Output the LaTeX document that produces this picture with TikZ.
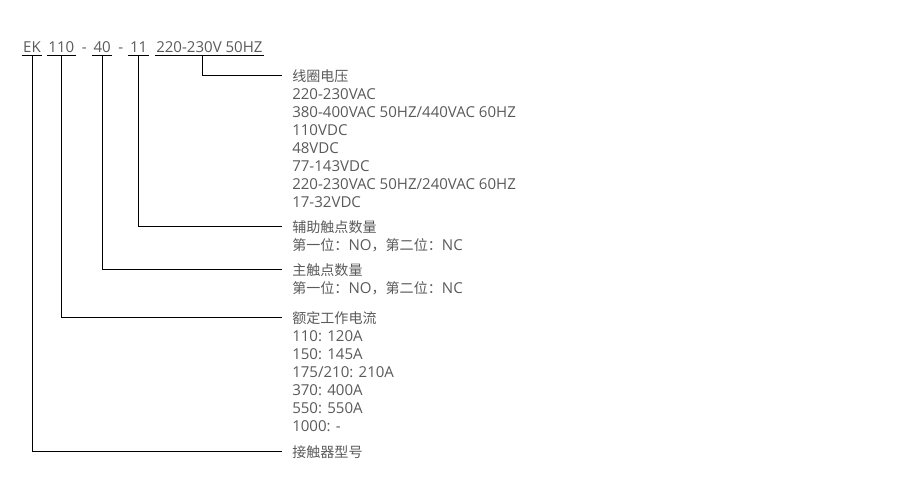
\documentclass[tikz,border=0pt]{standalone}
\usepackage{fontspec}
\setmainfont{Open Sans}[Scale=1.07]
\newfontfamily\cjk{Noto Sans CJK SC}
\usetikzlibrary{positioning}
\definecolor{txtgris}{HTML}{5A5A5A}
\newcommand{\taille}{\fontsize{10}{12.8}\selectfont}
\tikzset{
  seg/.style={inner xsep=1pt, inner ysep=2pt, text depth=0pt, font=\taille, text=txtgris},
  titre/.style={inner sep=0pt, anchor=base west, font=\taille\cjk, text=txtgris},
  corps/.style={inner sep=0pt, anchor=north west, align=left, font=\taille, text=txtgris},
  lien/.style={line width=0.7pt, draw=black},
}
\begin{document}
\begin{tikzpicture}[x=0.025cm, y=-0.025cm, node distance=5pt]
  \useasboundingbox (0,0) rectangle (900,500);
  % code de commande
  \node[seg] (ek) at (32,47) {EK};
  \node[seg, base right=3pt of ek] (cour) {110};
  \node[seg, base right=3pt of cour] (tr1) {-};
  \node[seg, base right=2.5pt of tr1] (princ) {40};
  \node[seg, base right=3pt of princ] (tr2) {-};
  \node[seg, base right=2.5pt of tr2] (aux) {11};
  \node[seg, base right=4pt of aux] (volt) {220-230V 50HZ};
  \foreach \n in {ek,cour,princ,aux,volt}
    \draw[lien] (\n.south west) -- (\n.south east);
  % legendes
  \node[titre] (bob) at (292,81) {线圈电压};
  \node[corps] (bobv) at ([yshift=-3.84pt]bob.base west) {\strut 220-230VAC\\380-400VAC 50HZ/440VAC 60HZ\\110VDC\\48VDC\\77-143VDC\\220-230VAC 50HZ/240VAC 60HZ\\17-32VDC};
  \node[titre] (cta) at (292,232) {辅助触点数量};
  \node[corps] (ctav) at ([yshift=-3.84pt]cta.base west) {\strut{\cjk 第一位：}NO{\cjk ，第二位：}NC};
  \node[titre] (ctp) at (292,275) {主触点数量};
  \node[corps] (ctpv) at ([yshift=-3.84pt]ctp.base west) {\strut{\cjk 第一位：}NO{\cjk ，第二位：}NC};
  \node[titre] (courant) at (292,323) {额定工作电流};
  \node[corps] (courantv) at ([yshift=-3.84pt]courant.base west) {\strut 110: 120A\\150: 145A\\175/210: 210A\\370: 400A\\550: 550A\\1000: -};
  \node[titre] (type) at (292,457) {接触器型号};
  % liaisons
  \draw[lien] ([xshift=-5pt]volt.south) |- ([xshift=-7pt]bob.west);
  \draw[lien] (aux.south) |- ([xshift=-7pt]cta.west);
  \draw[lien] (princ.south) |- ([xshift=-7pt]ctp.west);
  \draw[lien] (cour.south) |- ([xshift=-7pt]courant.west);
  \draw[lien] (ek.south) |- ([xshift=-7pt]type.west);
\end{tikzpicture}
\end{document}
